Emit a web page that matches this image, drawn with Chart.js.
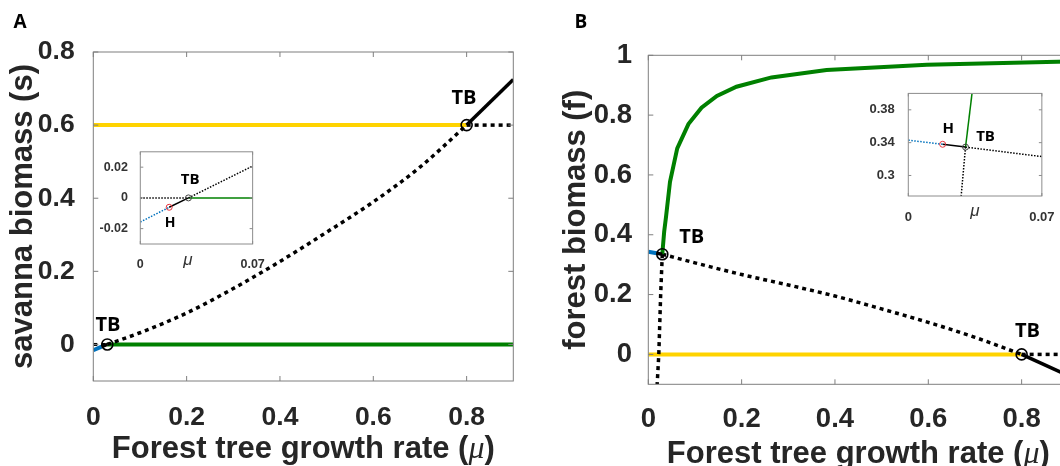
<!DOCTYPE html>
<html>
<head>
<meta charset="utf-8">
<script src="https://cdn.jsdelivr.net/npm/chart.js@4.4.1/dist/chart.umd.min.js"></script>
<style>
  html, body { margin: 0; padding: 0; background: #fff; }
  body { width: 1060px; height: 466px; overflow: hidden; position: relative; }
  canvas { position: absolute; }
</style>
</head>
<body>
<canvas id="mainA" width="530" height="466" style="left:0px;top:0px"></canvas>
<canvas id="mainB" width="530" height="466" style="left:555px;top:3px"></canvas>
<canvas id="insetA" width="170" height="135" style="left:100px;top:140px"></canvas>
<canvas id="insetB" width="200" height="150" style="left:860px;top:80px"></canvas>
<script>
// ---------- tick values and labels ----------
const muTicksMain = [0, 0.2, 0.4, 0.6, 0.8];
const muTickLabelsMain = ['0', '0.2', '0.4', '0.6', '0.8'];
const savannaTicks = [0, 0.2, 0.4, 0.6, 0.8];
const savannaTickLabels = ['0', '0.2', '0.4', '0.6', '0.8'];
const forestTicks = [0, 0.2, 0.4, 0.6, 0.8, 1];
const forestTickLabels = ['0', '0.2', '0.4', '0.6', '0.8', '1'];
const muTicksInset = [0, 0.07];
const muTickLabelsInset = ['0', '0.07'];
const savannaTicksInset = [-0.02, 0, 0.02];
const savannaTickLabelsInset = ['-0.02', '0', '0.02'];
const forestTicksInset = [0.3, 0.34, 0.38];
const forestTickLabelsInset = ['0.3', '0.34', '0.38'];

// ---------- panel A: savanna biomass s ----------
const savannaMuA = [0, 0.8];
const savannaSA = [0.6, 0.6];
const savannaUnstMuA = [0.8, 0.9];
const savannaUnstSA = [0.6, 0.6];
const forestOnlyMuA = [0.03, 0.9];
const forestOnlySA = [0, 0];
const forestOnlyUnstMuA = [0, 0.03];
const forestOnlyUnstSA = [0, 0];
const coexLowMuA = [0, 0.018];
const coexLowSA = [-0.0157, -0.0061];
const coexMidMuA = [0.018, 0.03];
const coexMidSA = [-0.0061, 0];
const coexUnstMuA = [0.03, 0.1, 0.2, 0.3, 0.4, 0.5, 0.6, 0.7, 0.8];
const coexUnstSA = [0, 0.032, 0.086, 0.153, 0.227, 0.307, 0.39, 0.485, 0.6];
const coexHighMuA = [0.8, 0.9];
const coexHighSA = [0.6, 0.725];
const tbMuA = [0.03, 0.8];
const tbSA = [0, 0.6];

// inset A (zoom near the low branch point)
const insForestUnstMuA = [0, 0.03];
const insForestUnstSA = [0, 0];
const insForestMuA = [0.03, 0.07];
const insForestSA = [0, 0];
const insCoexLowMuA = [0, 0.018];
const insCoexLowSA = [-0.0157, -0.0061];
const insCoexMidMuA = [0.018, 0.03];
const insCoexMidSA = [-0.0061, 0];
const insCoexUnstMuA = [0.03, 0.07];
const insCoexUnstSA = [0, 0.0207];
const hopfMuA = [0.018];
const hopfSA = [-0.0061];
const insTbMuA = [0.03];
const insTbSA = [0];

// ---------- panel B: forest biomass f ----------
const savannaMuB = [0, 0.8];
const savannaFB = [0, 0];
const savannaUnstMuB = [0.8, 0.9];
const savannaUnstFB = [0, 0];
const forestOnlyMuB = [0.03, 0.034, 0.038, 0.0465, 0.062, 0.086, 0.114, 0.147, 0.189, 0.264, 0.382, 0.597, 0.9];
const forestOnlyFB = [0.335, 0.41, 0.46, 0.577, 0.689, 0.77, 0.825, 0.864, 0.895, 0.926, 0.951, 0.968, 0.979];
const forestOnlyUnstMuB = [0.03, 0.0265, 0.0225, 0.019];
const forestOnlyUnstFB = [0.335, 0.2, 0, -0.1];
const coexLowMuB = [0, 0.018];
const coexLowFB = [0.343, 0.338];
const coexMidMuB = [0.018, 0.03];
const coexMidFB = [0.338, 0.335];
const coexUnstMuB = [0.03, 0.1, 0.2, 0.3, 0.4, 0.5, 0.6, 0.7, 0.8];
const coexUnstFB = [0.335, 0.306, 0.267, 0.232, 0.195, 0.152, 0.107, 0.057, 0];
const coexHighMuB = [0.8, 0.9];
const coexHighFB = [0, -0.071];
const tbMuB = [0.03, 0.8];
const tbFB = [0.335, 0];

// inset B
const insCoexLowMuB = [0, 0.018];
const insCoexLowFB = [0.343, 0.338];
const insCoexMidMuB = [0.018, 0.03];
const insCoexMidFB = [0.338, 0.3346];
const insForestMuB = [0.03, 0.0334];
const insForestFB = [0.3346, 0.4];
const insForestUnstMuB = [0.03, 0.0277];
const insForestUnstFB = [0.3346, 0.275];
const insCoexUnstMuB = [0.03, 0.07];
const insCoexUnstFB = [0.3346, 0.323];
const hopfMuB = [0.018];
const hopfFB = [0.338];
const insTbMuB = [0.03];
const insTbFB = [0.3346];

// ---------- styling ----------
const SANS = '"Liberation Sans", Arial, sans-serif';
const LBL = '"Open Sans", sans-serif';
const C = { black: '#000000', green: '#008000', yellow: '#FFD300', blue: '#0072BD', red: '#E8353E', axis: '#262626', box: '#7f7f7f' };

const pts = (xs, ys) => xs.map((x, i) => ({ x: x, y: ys[i] }));

function line(xs, ys, color, width, dash, smooth) {
  return {
    data: pts(xs, ys), showLine: true, pointRadius: 0, pointHoverRadius: 0,
    borderColor: color, borderWidth: width, borderDash: dash || [],
    tension: 0, cubicInterpolationMode: smooth ? 'monotone' : 'default',
    clip: 0, fill: false
  };
}
function marks(xs, ys, color, r, w) {
  return {
    data: pts(xs, ys), showLine: false, pointRadius: r, pointHoverRadius: r,
    pointBorderColor: color, pointBackgroundColor: 'rgba(0,0,0,0)', pointBorderWidth: w,
    clip: false
  };
}

// box, inward ticks and text drawn over the plot
const frame = {
  id: 'frame',
  beforeDatasetsDraw(chart, args, o) {
    if (!o.fill) return;
    const { ctx, chartArea: a } = chart;
    ctx.save();
    ctx.fillStyle = '#ffffff';
    ctx.fillRect(a.left, a.top, a.right - a.left, a.bottom - a.top);
    ctx.restore();
  },
  afterDatasetsDraw(chart, args, o) {
    const { ctx, chartArea: a, scales: { x, y } } = chart;
    ctx.save();
    ctx.strokeStyle = o.boxColor;
    ctx.lineWidth = o.boxWidth;
    ctx.strokeRect(a.left, a.top, a.right - a.left, a.bottom - a.top);
    ctx.beginPath();
    for (const t of x.ticks) {
      const p = x.getPixelForValue(t.value);
      ctx.moveTo(p, a.bottom); ctx.lineTo(p, a.bottom - o.tick);
      ctx.moveTo(p, a.top); ctx.lineTo(p, a.top + o.tick);
    }
    for (const t of y.ticks) {
      const p = y.getPixelForValue(t.value);
      ctx.moveTo(a.left, p); ctx.lineTo(a.left + o.tick, p);
      ctx.moveTo(a.right, p); ctx.lineTo(a.right - o.tick, p);
    }
    ctx.stroke();

    ctx.textAlign = 'center';
    ctx.textBaseline = 'middle';
    for (const l of (o.labels || [])) {
      ctx.font = l.font;
      ctx.fillStyle = l.color || '#000';
      ctx.fillText(l.text, x.getPixelForValue(l.at[0]) + l.dx, y.getPixelForValue(l.at[1]) + l.dy);
    }
    ctx.textBaseline = 'alphabetic';
    for (const t of (o.texts || [])) {
      ctx.font = t.font;
      ctx.fillStyle = t.color || '#000';
      ctx.textAlign = t.align || 'center';
      ctx.fillText(t.text, t.x, t.y);
    }
    // axis title with an italic symbol
    if (o.xTitle) {
      const parts = o.xTitle.parts;
      let total = 0;
      for (const p of parts) { ctx.font = p.font; p.w = ctx.measureText(p.t).width; total += p.w; }
      let cx = (a.left + a.right) / 2 - total / 2;
      ctx.textAlign = 'left';
      ctx.fillStyle = o.xTitle.color;
      for (const p of parts) { ctx.font = p.font; ctx.fillText(p.t, cx, o.xTitle.y); cx += p.w; }
    }
    ctx.restore();
  }
};

function scales(c) {
  return {
    x: {
      type: 'linear', min: c.xMin, max: c.xMax,
      afterBuildTicks: s => { s.ticks = c.xTicks.map(v => ({ value: v })); },
      afterFit: s => { s.height = c.xH; },
      grid: { display: false }, border: { display: false },
      ticks: { autoSkip: false, maxRotation: 0, color: c.tickColor, padding: c.xPad,
        font: { family: SANS, size: c.tickSize, weight: 'bold' },
        callback: (v, i) => c.xLabels[i] }
    },
    y: {
      type: 'linear', min: c.yMin, max: c.yMax,
      afterBuildTicks: s => { s.ticks = c.yTicks.map(v => ({ value: v })); },
      afterFit: s => { s.width = c.yW; },
      grid: { display: false }, border: { display: false },
      ticks: { autoSkip: false, color: c.tickColor, padding: c.yPad,
        font: { family: SANS, size: c.tickSize, weight: 'bold' },
        callback: (v, i) => c.yLabels[i] },
      title: c.yTitle ? { display: true, text: c.yTitle, color: C.axis, padding: { top: c.yTitlePad, bottom: 0 },
        font: { family: SANS, size: 31, weight: 'bold' } } : { display: false }
    }
  };
}

function make(id, datasets, sc, padding, frameOpts) {
  return new Chart(document.getElementById(id), {
    type: 'scatter',
    data: { datasets: datasets },
    options: {
      responsive: false, animation: false, devicePixelRatio: 1, events: [],
      layout: { padding: padding },
      scales: scales(sc),
      plugins: { legend: { display: false }, tooltip: { enabled: false }, frame: frameOpts }
    },
    plugins: [frame]
  });
}

const DOT = [4, 4];
const xTitleParts = [
  { t: 'Forest tree growth rate (', font: 'bold 31px ' + SANS },
  { t: 'μ', font: 'italic 32px "Liberation Serif", serif' },
  { t: ')', font: 'bold 31px ' + SANS }
];

// ---------- panel A ----------
make('mainA', [
  marks(tbMuA, tbSA, C.black, 5.5, 1.6),
  line(coexHighMuA, coexHighSA, C.black, 3.5),
  line(coexMidMuA, coexMidSA, C.black, 3.5),
  line(coexLowMuA, coexLowSA, C.blue, 4),
  line(coexUnstMuA, coexUnstSA, C.black, 3.5, DOT, true),
  line(savannaUnstMuA, savannaUnstSA, C.black, 3.5, DOT),
  line(forestOnlyUnstMuA, forestOnlyUnstSA, C.black, 3, DOT),
  line(forestOnlyMuA, forestOnlySA, C.green, 4),
  line(savannaMuA, savannaSA, C.yellow, 4)
], {
  xMin: 0, xMax: 0.9, yMin: -0.1, yMax: 0.8,
  xTicks: muTicksMain, xLabels: muTickLabelsMain, yTicks: savannaTicks, yLabels: savannaTickLabels,
  tickColor: C.axis, tickSize: 26.5, xPad: 12.5, yPad: 10.6, xH: 85, yW: 93.3,
  yTitle: 'savanna biomass (s)', yTitlePad: 5
}, { left: 0, top: 52, right: 16.7, bottom: 0 }, {
  boxColor: C.box, boxWidth: 1, tick: 5,
  labels: [
    { text: 'TB', at: [tbMuA[0], tbSA[0]], dx: 0.7, dy: -19.3, font: 'bold 20px ' + LBL },
    { text: 'TB', at: [tbMuA[1], tbSA[1]], dx: -2.7, dy: -27.3, font: 'bold 20px ' + LBL }
  ],
  texts: [ { text: 'A', x: 13.5, y: 28.3, align: 'left', font: 'bold 19px ' + LBL } ],
  xTitle: { parts: xTitleParts, y: 457.7, color: C.axis }
});

// ---------- panel B ----------
make('mainB', [
  marks(tbMuB, tbFB, C.black, 5.5, 1.6),
  line(coexHighMuB, coexHighFB, C.black, 3.5),
  line(coexMidMuB, coexMidFB, C.black, 3.5),
  line(coexLowMuB, coexLowFB, C.blue, 4),
  line(forestOnlyMuB, forestOnlyFB, C.green, 4),
  line(coexUnstMuB, coexUnstFB, C.black, 3.5, DOT, true),
  line(forestOnlyUnstMuB, forestOnlyUnstFB, C.black, 3.5, DOT),
  line(savannaUnstMuB, savannaUnstFB, C.black, 3.5, DOT),
  line(savannaMuB, savannaFB, C.yellow, 4)
], {
  xMin: 0, xMax: 0.9, yMin: -0.1, yMax: 1,
  xTicks: muTicksMain, xLabels: muTickLabelsMain, yTicks: forestTicks, yLabels: forestTickLabels,
  tickColor: C.axis, tickSize: 27.5, xPad: 11, yPad: 8.3, xH: 84.7, yW: 93.3,
  yTitle: 'forest biomass (f)', yTitlePad: 3
}, { left: 0, top: 52.3, right: 16.7, bottom: 0 }, {
  boxColor: C.box, boxWidth: 1, tick: 5,
  labels: [
    { text: 'TB', at: [tbMuB[0], tbFB[0]], dx: 29.4, dy: -16.6, font: 'bold 20px ' + LBL },
    { text: 'TB', at: [tbMuB[1], tbFB[1]], dx: 5.8, dy: -23.5, font: 'bold 20px ' + LBL }
  ],
  texts: [ { text: 'B', x: 19.5, y: 25.3, align: 'left', font: 'bold 19px ' + LBL } ],
  xTitle: { parts: xTitleParts, y: 459.7, color: C.axis }
});

// ---------- inset A ----------
make('insetA', [
  marks(hopfMuA, hopfSA, C.red, 3, 1),
  marks(insTbMuA, insTbSA, '#444444', 3, 1),
  line(insCoexMidMuA, insCoexMidSA, C.black, 1.5),
  line(insCoexUnstMuA, insCoexUnstSA, C.black, 1.5, [1.5, 1.5]),
  line(insCoexLowMuA, insCoexLowSA, C.blue, 1.5, [1.5, 1.5]),
  line(insForestMuA, insForestSA, C.green, 1.5),
  line(insForestUnstMuA, insForestUnstSA, C.black, 1.5, [1.5, 1.5])
], {
  xMin: 0, xMax: 0.07, yMin: -0.03, yMax: 0.03,
  xTicks: muTicksInset, xLabels: muTickLabelsInset, yTicks: savannaTicksInset, yLabels: savannaTickLabelsInset,
  tickColor: '#333333', tickSize: 12.5, xPad: 5.2, yPad: 4.3, xH: 31, yW: 40.3
}, { left: 0, top: 6, right: 11.3, bottom: 0 }, {
  fill: true, boxColor: '#8c8c8c', boxWidth: 1, tick: 3,
  labels: [
    { text: 'TB', at: [insTbMuA[0], insTbSA[0]], dx: 1.7, dy: -18.3, font: 'bold 15px ' + LBL },
    { text: 'H', at: [hopfMuA[0], hopfSA[0]], dx: 1, dy: 16, font: 'bold 14px ' + LBL }
  ],
  texts: [ { text: 'μ', x: 88, y: 125, font: 'italic 17px ' + SANS, color: '#333333' } ]
});

// ---------- inset B ----------
make('insetB', [
  marks(hopfMuB, hopfFB, C.red, 3, 1),
  marks(insTbMuB, insTbFB, '#444444', 3, 1),
  line(insCoexMidMuB, insCoexMidFB, C.black, 1.5),
  line(insForestMuB, insForestFB, C.green, 1.5),
  line(insCoexUnstMuB, insCoexUnstFB, C.black, 1.5, [1.5, 1.5]),
  line(insForestUnstMuB, insForestUnstFB, C.black, 1.5, [1.5, 1.5]),
  line(insCoexLowMuB, insCoexLowFB, C.blue, 1.5, [1.5, 1.5])
], {
  xMin: 0, xMax: 0.07, yMin: 0.275, yMax: 0.4,
  xTicks: muTicksInset, xLabels: muTickLabelsInset, yTicks: forestTicksInset, yLabels: forestTickLabelsInset,
  tickColor: '#333333', tickSize: 13, xPad: 5.5, yPad: 5.6, xH: 34, yW: 48.3
}, { left: 0, top: 7.3, right: 16.7, bottom: 0 }, {
  fill: true, boxColor: '#8c8c8c', boxWidth: 1, tick: 3,
  labels: [
    { text: 'H', at: [hopfMuB[0], hopfFB[0]], dx: 5.7, dy: -16, font: 'bold 15px ' + LBL },
    { text: 'TB', at: [insTbMuB[0], insTbFB[0]], dx: 20, dy: -10.7, font: 'bold 15px ' + LBL }
  ],
  texts: [ { text: 'μ', x: 115, y: 136.4, font: 'italic 17px ' + SANS, color: '#333333' } ]
});
</script>
</body>
</html>
